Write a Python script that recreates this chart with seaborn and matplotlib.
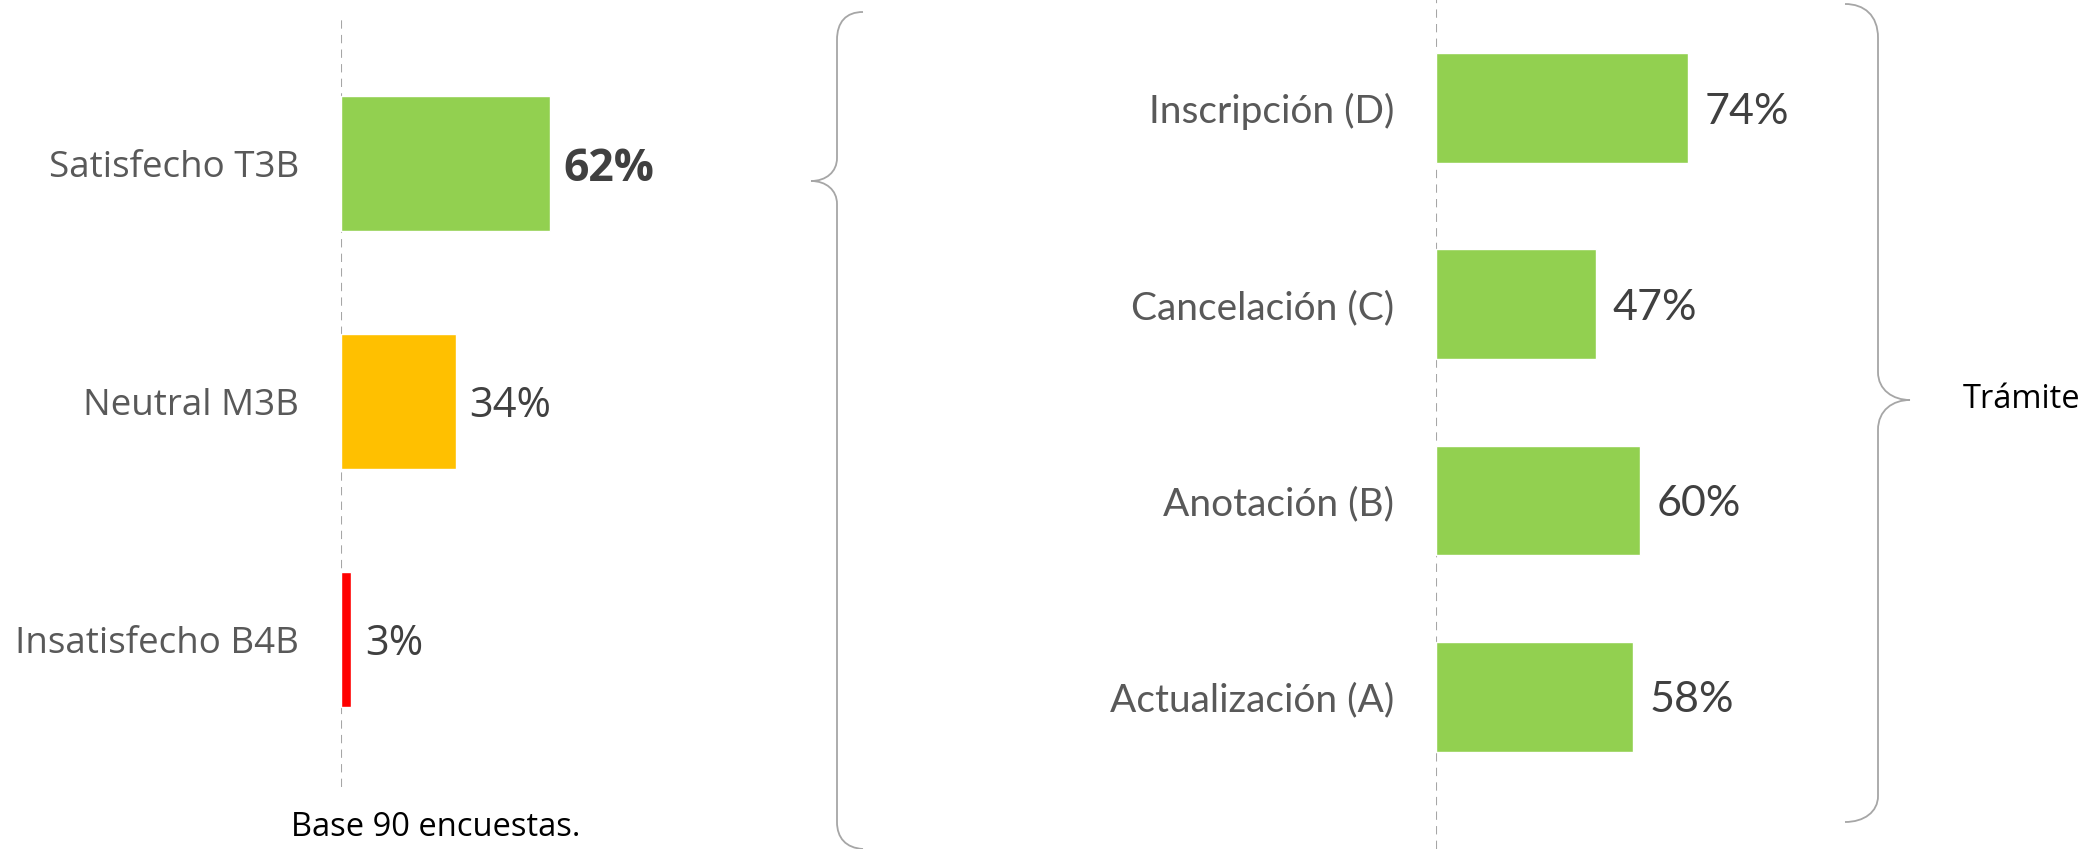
import numpy as np
import matplotlib
matplotlib.use("Agg")
import matplotlib.pyplot as plt
from matplotlib.path import Path
from matplotlib.patches import PathPatch
import seaborn as sns

sns.set_style("white")
plt.rcParams['font.family'] = ['Open Sans', 'DejaVu Sans']

### Data
sat_labels = ['Satisfecho T3B', 'Neutral M3B', 'Insatisfecho B4B']
sat_values = [62, 34, 3]
sat_colors = ['#92D050', '#FFC000', '#FF0000']

tramite_labels = ['Inscripción (D)', 'Cancelación (C)', 'Anotación (B)', 'Actualización (A)']
tramite_values = [74, 47, 60, 58]

note_text = 'Base 90 encuestas.'
brace_text = 'Trámite'

W, H = 2090, 849
label_gray = '#595959'
value_gray = '#404040'
line_gray = '#A6A6A6'

fig = plt.figure(figsize=(W / 100, H / 100), dpi=100)


def px_axes(left, top, width, height):
    return fig.add_axes([left / W, 1 - (top + height) / H, width / W, height / H])


### Left chart: satisfaction
ax_sat = px_axes(341, 20, 337, 767)
sns.barplot(x=sat_values, y=sat_labels, hue=sat_labels, palette=sat_colors,
            legend=False, width=0.57, ax=ax_sat, saturation=1, zorder=2)
ax_sat.set_xlim(0, 100)
ax_sat.set_ylim(2.62, -0.603)
ax_sat.axvline(0, color=line_gray, lw=1.5, ls=(0, (4, 3)), zorder=0)
for i, cont in enumerate(ax_sat.containers):
    txts = ax_sat.bar_label(cont, fmt='%d%%', padding=10, fontsize=32 if i == 0 else 30,
                            color=value_gray, fontweight='bold' if i == 0 else 'normal')
    for t in txts:
        t.set_va('center_baseline')
ax_sat.tick_params(axis='y', length=0, pad=30, labelsize=26.5, labelcolor=label_gray)
ax_sat.set_xticks([])
ax_sat.set_xlabel('')
ax_sat.set_ylabel('')
sns.despine(ax=ax_sat, left=True, bottom=True)

### Right chart: by procedure
ax_tr = px_axes(1436, 0, 340, 849)
sns.barplot(x=tramite_values, y=tramite_labels, color='#92D050', width=0.56,
            ax=ax_tr, saturation=1, zorder=2)
ax_tr.set_xlim(0, 100)
ax_tr.set_ylim(3.776, -0.551)
ax_tr.axvline(0, color=line_gray, lw=1.5, ls=(0, (4, 3)), zorder=0)
for cont in ax_tr.containers:
    txts = ax_tr.bar_label(cont, fmt='%d%%', padding=12, fontsize=31, color=value_gray,
                           family=['Lato', 'DejaVu Sans'])
    for t in txts:
        t.set_va('center_baseline')
ax_tr.tick_params(axis='y', length=0, pad=30, labelsize=28, labelcolor=label_gray)
for t in ax_tr.get_yticklabels():
    t.set_family(['Lato', 'DejaVu Sans'])
ax_tr.set_xticks([])
ax_tr.set_xlabel('')
ax_tr.set_ylabel('')
sns.despine(ax=ax_tr, left=True, bottom=True)

### Overlay: braces and notes
ov = fig.add_axes([0, 0, 1, 1])
ov.set_xlim(0, W)
ov.set_ylim(H, 0)
ov.axis('off')
ov.patch.set_alpha(0)

M, L, C = Path.MOVETO, Path.LINETO, Path.CURVE4
left_brace = [
    ((863, 12), M),
    ((846, 12), C), ((837, 22), C), ((837, 40), C),
    ((837, 158), L),
    ((837, 172), C), ((826, 181), C), ((811, 181), C),
    ((826, 181), C), ((837, 190), C), ((837, 204), C),
    ((837, 822), L),
    ((837, 838), C), ((846, 848), C), ((863, 849), C),
]
right_brace = [
    ((1845, 4), M),
    ((1864, 4), C), ((1878, 15), C), ((1878, 38), C),
    ((1878, 372), L),
    ((1878, 390), C), ((1893, 400), C), ((1910, 400), C),
    ((1893, 400), C), ((1878, 410), C), ((1878, 430), C),
    ((1878, 796), L),
    ((1878, 812), C), ((1864, 822), C), ((1845, 822), C),
]
for brace in (left_brace, right_brace):
    verts, codes = zip(*brace)
    ov.add_patch(PathPatch(Path(verts, codes), fill=False, edgecolor=line_gray, lw=1.3))

ov.text(1963, 399, brace_text, ha='left', va='center', fontsize=23.5, color='black')
ov.text(436, 827, note_text, ha='center', va='center', fontsize=23.5, color='black')

fig.savefig('out.png', dpi=100)
